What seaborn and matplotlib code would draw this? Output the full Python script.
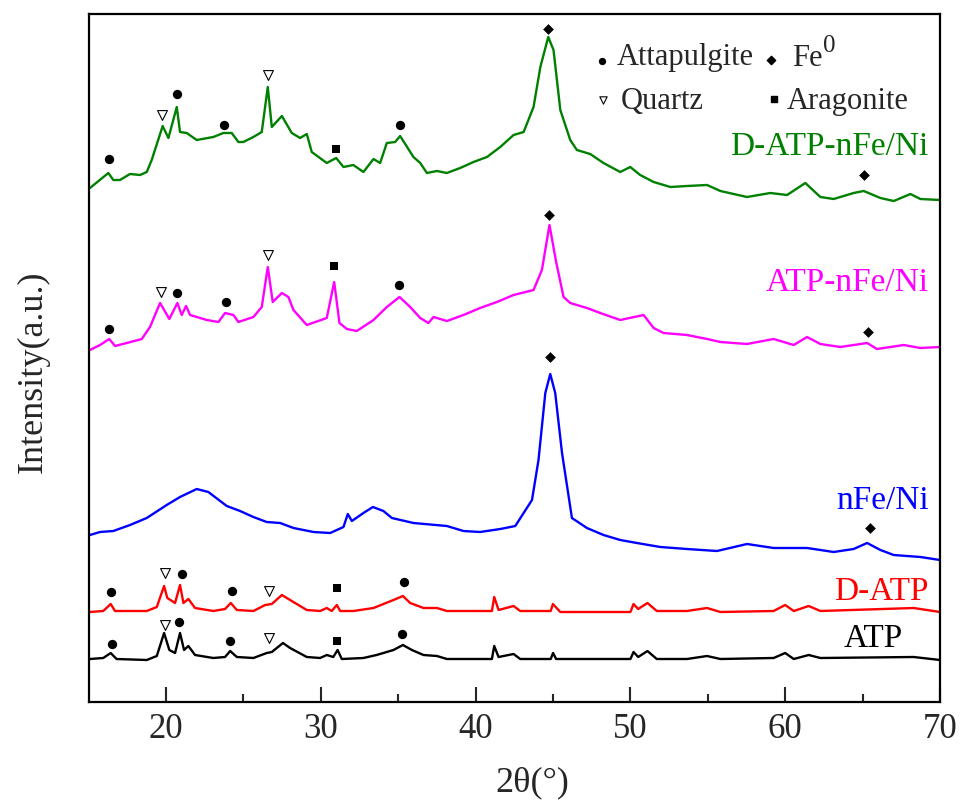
import matplotlib
matplotlib.use("Agg")
import matplotlib.pyplot as plt
import seaborn as sns
import pandas as pd

# ---------------- data (2theta, intensity offset in a.u.) ----------------
green_x = [15.08,16.27,16.59,17.02,17.67,18.32,18.75,19.07,19.78,20.15,20.69,20.9,21.33,21.98,23.05,23.7,24.24,24.67,24.99,25.64,
           26.18,26.57,26.83,27.48,28.12,28.66,29.09,29.41,30.38,30.99,31.46,32.1,32.75,33.4,33.83,34.26,34.8,35.12,35.98,36.42,
           36.85,37.5,38.14,39.0,39.86,40.73,41.59,42.45,43.1,43.74,44.18,44.69,45.03,45.47,46.11,46.54,47.4,48.26,49.34,49.99,
           50.63,51.5,52.58,53.65,54.95,55.81,57.53,59.04,60.12,61.3,62.27,63.13,64.42,65.07,66.15,67.01,68.09,68.73,70.0]
green_y = [514,529,522,522,528,527,530,542,576,564,595,570,569,562,565,569,569,560,560,565,
           570,615,575,586,569,564,568,550,539,544,535,537,530,543,539,559,560,566,545,539,
           529,531,529,534,540,545,555,567,570,595,635,665,652,592,562,552,548,539,530,535,
           527,520,515,516,517,511,505,509,507,519,505,503,509,511,504,501,508,503,502]

mag_x = [15.08,15.73,16.33,16.7,17.46,18.43,18.96,19.61,20.21,20.73,21.01,21.29,21.55,22.63,23.38,23.81,24.35,24.67,25.64,26.18,
         26.57,26.89,27.48,27.9,28.23,29.09,30.38,30.86,31.2,31.68,32.32,33.4,34.26,35.08,35.77,36.42,36.95,37.28,38.14,39.21,
         40.29,41.37,42.45,43.74,44.28,44.77,45.2,45.68,46.11,47.19,48.05,49.34,50.85,51.5,52.14,53.65,54.95,55.81,57.53,59.25,
         60.55,61.41,62.27,63.56,65.29,65.93,67.66,68.73,70.0]
mag_y = [352,357,363,356,359,363,375,399,383,399,387,396,387,382,380,389,387,380,385,395,
         435,400,409,405,392,377,384,420,379,373,371,382,395,405,395,384,379,385,381,387,
         394,400,407,412,432,477,440,405,399,394,389,382,387,374,369,367,363,360,358,363,
         357,365,358,355,359,353,357,354,355]

blue_x = [15.08,15.73,16.59,17.67,18.75,20.04,20.9,21.98,22.73,23.92,24.78,25.64,26.5,27.37,28.23,29.52,30.6,31.46,31.74,32.0,
          32.75,33.36,34.04,34.59,35.98,38.14,39.21,40.29,41.59,42.56,43.1,43.64,44.06,44.5,44.82,45.14,45.58,46.22,47.19,48.26,
          49.34,50.42,51.93,53.65,55.59,57.53,59.25,61.41,63.13,64.42,65.29,66.15,67.01,68.73,70.0]
blue_y = [167,170,171,177,184,197,205,213,210,196,191,185,180,179,174,170,169,175,188,181,
          189,195,191,184,179,176,171,170,173,176,189,202,242,309,328,309,249,184,174,167,
          162,159,155,153,151,158,154,154,150,153,159,152,147,145,142]

red_x = [15.08,15.94,16.42,16.7,17.67,18.75,19.4,19.87,20.08,20.58,20.9,21.12,21.44,21.87,23.05,23.81,24.18,24.57,25.64,26.4,
         26.83,27.48,28.01,29.09,29.95,30.38,30.7,31.03,31.25,32.1,33.4,34.69,35.3,35.77,36.63,37.5,38.14,40.29,41.05,41.2,
         41.48,42.45,42.88,44.85,44.99,45.47,50.0,50.2,50.5,51.1,51.7,53.65,54.95,55.81,59.25,60.0,60.55,61.52,62.27,68.3,70.0]
red_y = [90,91,98,91,91,91,95,116,104,99,117,99,103,94,91,93,99,92,91,97,
         98,107,102,92,91,94,91,97,91,91,94,102,106,99,94,94,91,91,91,105,
         92,96,91,91,98,90,90,98,93,99,91,91,94,90,91,97,91,96,91,94,90]

blk_x = [15.08,15.94,16.42,16.8,18.75,19.4,19.87,20.21,20.58,20.9,21.16,21.44,21.87,23.05,23.81,24.14,24.57,25.64,26.5,26.83,
         27.55,28.01,29.09,29.95,30.38,30.8,31.08,31.35,32.75,33.6,34.69,35.3,35.88,36.63,37.5,38.14,40.29,41.05,41.2,41.48,
         42.45,42.88,44.85,45.0,45.2,50.0,50.2,50.5,51.1,51.7,53.65,54.95,55.81,59.25,60.0,60.55,61.52,62.27,68.3,70.0]
blk_y = [43,44,49,43,42,46,69,52,49,69,52,56,47,44,45,51,45,44,49,50,
         59,54,45,44,47,45,52,43,44,47,52,57,52,47,46,43,43,43,56,45,
         48,43,43,49,43,43,50,45,51,43,43,46,43,44,49,43,47,44,45,42]

samples = ["D-ATP-nFe/Ni", "ATP-nFe/Ni", "nFe/Ni", "D-ATP", "ATP"]
colors = ["#008000", "#FF00FF", "#0000FF", "#FF0000", "#000000"]
label_y = [555, 419, 201, 110, 63]
label_x_right = [69.25, 69.25, 69.25, 69.25, 67.6]

# phase markers
dot_x = [16.33,20.73,23.75,35.12,16.33,20.73,23.88,35.07,16.42,21.05,24.28,35.38,16.48,20.86,24.14,35.23]
dot_y = [543,608,577,577,373,409,400,417,110,128,111,120,58,80,61,68]
tri_x = [19.72,26.57,19.67,26.57,19.93,26.67,19.93,26.67]
tri_y = [587,627,410,447,129,111,77,64]
sq_x = [30.99,30.86,31.07,31.07]
sq_y = [553,436,114,61]
dia_x = [44.69,65.07,44.74,65.33,44.82,65.46]
dia_y = [673,527,487,370,345,174]

xticks = [20, 30, 40, 50, 60, 70]

# ---------------- figure ----------------
sns.set_style("ticks")
plt.rcParams["font.family"] = ["Liberation Serif", "DejaVu Serif"]

fig = plt.figure(figsize=(9.6, 8), dpi=100)
ax = fig.add_axes([88.7/960, 1-702/800, (940-88.7)/960, (702-14)/800])

frames = []
for name, xs, ys in zip(samples, [green_x, mag_x, blue_x, red_x, blk_x], [green_y, mag_y, blue_y, red_y, blk_y]):
    frames.append(pd.DataFrame({"theta": xs, "I": ys, "sample": name}))
df = pd.concat(frames, ignore_index=True)

sns.lineplot(data=df, x="theta", y="I", hue="sample", palette=dict(zip(samples, colors)),
             sort=False, estimator=None, legend=False, linewidth=1.7, ax=ax)

sns.scatterplot(x=dot_x, y=dot_y, marker="o", s=45, color="black", edgecolor="black", linewidth=0, ax=ax, zorder=5)
sns.scatterplot(x=tri_x, y=tri_y, marker="v", s=50, facecolor="white", edgecolor="black", linewidth=0.8, ax=ax, zorder=5)
sns.scatterplot(x=sq_x, y=sq_y, marker="s", s=26, color="black", edgecolor="black", linewidth=0, ax=ax, zorder=5)
sns.scatterplot(x=dia_x, y=dia_y, marker="D", s=30, color="black", edgecolor="black", linewidth=0, ax=ax, zorder=5)

# series labels
for name, c, lx, ly in zip(samples, colors, label_x_right, label_y):
    ax.text(lx, ly, name, color=c, fontsize=24, ha="right", va="center")

# legend of phases (drawn as text + markers)
ax.scatter([48.15], [641], marker="o", s=18, color="black", zorder=5)
ax.text(49.13, 645, "Attapulgite", fontsize=22, ha="left", va="center")
ax.scatter([59.1], [642], marker="D", s=18, color="black", zorder=5)
ax.text(60.45, 643, "Fe", fontsize=22, ha="left", va="center")
ax.text(62.45, 656, "0", fontsize=18, ha="left", va="center")
ax.scatter([48.25], [602], marker="v", s=28, facecolor="white", edgecolor="black", linewidth=0.8, zorder=5)
ax.text(49.35, 601, "Quartz", fontsize=22, ha="left", va="center")
ax.scatter([59.25], [603], marker="s", s=16, color="black", zorder=5)
ax.text(60.12, 601, "Aragonite", fontsize=22, ha="left", va="center")

ax.set_xlim(15, 70)
ax.set_ylim(0, 688)
ax.set_xticks(xticks)
ax.set_xticks([25, 35, 45, 55, 65], minor=True)
ax.set_yticks([])
ax.tick_params(axis="x", which="major", direction="in", length=11, width=1.5, labelsize=25, pad=8)
ax.tick_params(axis="x", which="minor", direction="in", length=6, width=1.5)
for s in ax.spines.values():
    s.set_visible(True)
    s.set_linewidth(1.6)
    s.set_color("black")

ax.set_xlabel("2θ(°)", fontsize=26)
ax.xaxis.set_label_coords(0.521, -0.094)
ax.set_ylabel("Intensity(a.u.)", fontsize=26)
ax.yaxis.set_label_coords(-0.046, 0.48)

fig.savefig("out.png", dpi=100, facecolor="white")
